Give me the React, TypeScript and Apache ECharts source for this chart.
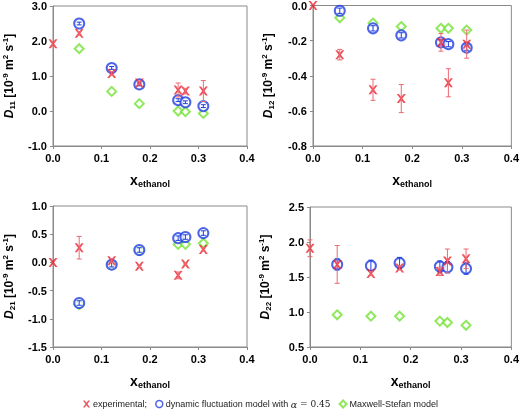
import React, { useEffect, useRef } from "react";
import * as echarts from "echarts";

const xExp = [0, 0.054, 0.121, 0.178, 0.258, 0.273, 0.31];
const xMod = [0.054, 0.121, 0.178, 0.258, 0.273, 0.31];

// D11
const d11Exp = [1.92, 2.22, 1.07, 0.8, 0.6, 0.57, 0.57];
const d11ExpErr = [0.06, 0.05, 0.05, 0.05, 0.2, 0.08, 0.3];
const d11Dfm = [2.5, 1.23, 0.76, 0.31, 0.25, 0.14];
const d11DfmErr = [0.04, 0.04, 0.04, 0.04, 0.04, 0.04];
const d11Ms = [1.78, 0.56, 0.21, 0.0, -0.02, -0.07];

// D12
const d12Exp = [0.0, -0.28, -0.48, -0.53, -0.21, -0.44, -0.22];
const d12ExpErr = [0.0, 0.03, 0.06, 0.08, 0.05, 0.08, 0.08];
const d12Dfm = [-0.03, -0.13, -0.17, -0.21, -0.22, -0.24];
const d12DfmErr = [0.015, 0.015, 0.015, 0.015, 0.015, 0.015];
const d12Ms = [-0.07, -0.1, -0.12, -0.13, -0.13, -0.14];

// D21
const d21Exp = [0.0, 0.26, 0.03, -0.07, -0.23, -0.03, 0.23];
const d21ExpErr = [0.0, 0.2, 0.03, 0.02, 0.06, 0.02, 0.03];
const d21Dfm = [-0.72, -0.04, 0.22, 0.43, 0.45, 0.52];
const d21DfmErr = [0.04, 0.04, 0.04, 0.04, 0.04, 0.04];
const d21Ms = [-0.75, -0.03, 0.21, 0.32, 0.32, 0.34];

// D22
const d22Exp = [1.91, 1.68, 1.55, 1.63, 1.58, 1.73, 1.76];
const d22ExpErr = [0.12, 0.27, 0.03, 0.03, 0.06, 0.17, 0.14];
const d22Dfm = [1.68, 1.66, 1.7, 1.65, 1.64, 1.62];
const d22DfmErr = [0.08, 0.08, 0.08, 0.08, 0.08, 0.08];
const d22Ms = [0.96, 0.94, 0.94, 0.87, 0.85, 0.81];

const yMins = [-1, -0.8, -1.5, 0.5];
const yMaxs = [3, 0, 1, 2.5];
const yIntervals = [1, 0.2, 0.5, 0.5];
const ySubs = ["11", "12", "21", "22"];
const legendNames = ["experimental;", "dynamic fluctuation model with α = 0.45", "Maxwell-Stefan model"];

const RED = "#ea2431";
const RED_ERR = "#ee6a72";
const BLUE = "#1f3fe0";
const GREEN = "#74e234";
const XSYM = "path://M0,0 L2.4,0 L5,3.2 L7.6,0 L10,0 L6.3,5 L10,10 L7.6,10 L5,6.8 L2.4,10 L0,10 L3.7,5 Z";
const FONT = "Liberation Sans, Arial, sans-serif";

const panels = [
  { exp: d11Exp, expErr: d11ExpErr, dfm: d11Dfm, dfmErr: d11DfmErr, ms: d11Ms },
  { exp: d12Exp, expErr: d12ExpErr, dfm: d12Dfm, dfmErr: d12DfmErr, ms: d12Ms },
  { exp: d21Exp, expErr: d21ExpErr, dfm: d21Dfm, dfmErr: d21DfmErr, ms: d21Ms },
  { exp: d22Exp, expErr: d22ExpErr, dfm: d22Dfm, dfmErr: d22DfmErr, ms: d22Ms },
];

const grids = [
  { left: 47, top: 6, width: 200, height: 140 },
  { left: 313, top: 5, width: 200, height: 141 },
  { left: 47, top: 206, width: 200, height: 141 },
  { left: 310, top: 207, width: 203, height: 140 },
];

function errSeries(i: number, xs: number[], ys: number[], errs: number[], color: string, z: number) {
  const data = xs.map((x, k) => [x, ys[k] - errs[k], ys[k] + errs[k]]).filter((d) => d[2] - d[1] > 0);
  return {
    type: "custom",
    xAxisIndex: i,
    yAxisIndex: i,
    z,
    silent: true,
    data,
    renderItem: (params: any, api: any) => {
      const x = api.value(0);
      const lo = api.coord([x, api.value(1)]);
      const hi = api.coord([x, api.value(2)]);
      const cw = 2.5;
      const style = { stroke: color, lineWidth: 1 };
      return {
        type: "group",
        children: [
          { type: "line", shape: { x1: lo[0], y1: lo[1], x2: hi[0], y2: hi[1] }, style },
          { type: "line", shape: { x1: lo[0] - cw, y1: lo[1], x2: lo[0] + cw, y2: lo[1] }, style },
          { type: "line", shape: { x1: hi[0] - cw, y1: hi[1], x2: hi[0] + cw, y2: hi[1] }, style },
        ],
      };
    },
  };
}

export default function App() {
  const ref = useRef<HTMLDivElement>(null);
  useEffect(() => {
    if (!ref.current) return;
    const chart = echarts.init(ref.current, null, { renderer: "svg" });
    const axisLine = { show: true, onZero: false, lineStyle: { color: "#8a8a8a", width: 1 } };
    const axisTick = { show: true, length: 3, lineStyle: { color: "#8a8a8a" } };
    const labelStyle = { color: "#000", fontWeight: "bold" as const, fontSize: 11, fontFamily: FONT };

    const xAxes = grids.map((_, i) => ({
      type: "value",
      gridIndex: i,
      min: 0,
      max: 0.4,
      interval: 0.1,
      axisLine,
      axisTick,
      splitLine: { show: false },
      axisLabel: { ...labelStyle, margin: 6, formatter: (v: number) => v.toFixed(1) },
      name: "{x|x}{s|ethanol}",
      nameLocation: "middle",
      nameGap: 25,
      nameTextStyle: {
        rich: {
          x: { fontSize: 14, fontWeight: "bold", fontFamily: FONT, color: "#000" },
          s: { fontSize: 9, fontWeight: "bold", fontFamily: FONT, color: "#000", padding: [8, 0, 0, 0] },
        },
      },
    }));

    const yAxes = grids.map((_, i) => ({
      type: "value",
      gridIndex: i,
      min: yMins[i],
      max: yMaxs[i],
      interval: yIntervals[i],
      axisLine,
      axisTick,
      splitLine: { show: false },
      axisLabel: { ...labelStyle, margin: 6, formatter: (v: number) => v.toFixed(1) },
      name: `{d|D}{sub|${ySubs[i]}}{t| [10}{sup|-9}{t| m}{sup|2}{t| s}{sup|-1}{t|]}`,
      nameLocation: "middle",
      nameRotate: 90,
      nameGap: i % 2 === 1 ? 38 : 37,
      nameTextStyle: {
        rich: {
          d: { fontSize: 12, fontWeight: "bold", fontStyle: "italic", fontFamily: FONT, color: "#000" },
          sub: { fontSize: 8, fontWeight: "bold", fontFamily: FONT, color: "#000", padding: [7, 0, 0, 0] },
          t: { fontSize: 12, fontWeight: "bold", fontFamily: FONT, color: "#000" },
          sup: { fontSize: 8, fontWeight: "bold", fontFamily: FONT, color: "#000", padding: [0, 0, 7, 0] },
        },
      },
    }));

    const series: any[] = [];
    panels.forEach((p, i) => {
      series.push({
        name: legendNames[2],
        type: "scatter",
        xAxisIndex: i,
        yAxisIndex: i,
        symbol: "emptyDiamond",
        symbolSize: 9,
        itemStyle: { color: GREEN, borderColor: GREEN, borderWidth: 2 },
        z: 2,
        data: xMod.map((x, k) => [x, p.ms[k]]),
      });
      series.push({
        name: legendNames[1],
        type: "scatter",
        xAxisIndex: i,
        yAxisIndex: i,
        symbol: "emptyCircle",
        symbolSize: 10,
        itemStyle: { color: BLUE, borderColor: BLUE, borderWidth: 2 },
        z: 3,
        data: xMod.map((x, k) => [x, p.dfm[k]]),
      });
      series.push(errSeries(i, xMod, p.dfm, p.dfmErr, BLUE, 4));
      series.push({
        name: legendNames[0],
        type: "scatter",
        xAxisIndex: i,
        yAxisIndex: i,
        symbol: XSYM,
        symbolSize: 9,
        itemStyle: { color: RED },
        z: 5,
        data: xExp.map((x, k) => [x, p.exp[k]]),
      });
      series.push(errSeries(i, xExp, p.exp, p.expErr, RED_ERR, 6));
    });

    chart.setOption({
      animation: false,
      grid: grids.map((g) => ({ ...g, show: true, borderColor: "#8a8a8a", borderWidth: 1, backgroundColor: "transparent" })),
      xAxis: xAxes,
      yAxis: yAxes,
      legend: {
        data: [
          { name: legendNames[0], icon: XSYM, itemStyle: { color: RED } },
          { name: legendNames[1], icon: "circle", itemStyle: { color: "#fff", borderColor: BLUE, borderWidth: 1.5 } },
          { name: legendNames[2], icon: "diamond", itemStyle: { color: "#fff", borderColor: GREEN, borderWidth: 2 } },
        ],
        left: 83,
        top: 399,
        padding: 0,
        itemWidth: 7,
        itemHeight: 7,
        itemGap: 8,
        selectedMode: false,
        formatter: (name: string) =>
          name === legendNames[1]
            ? "{n|dynamic fluctuation model with }{a|α}{m| = 0.45}"
            : `{n|${name}}`,
        textStyle: {
          fontSize: 9,
          color: "#222",
          fontFamily: FONT,
          padding: [0, 0, 0, -2],
          rich: {
            n: { fontSize: 9, color: "#222", fontFamily: FONT, lineHeight: 11 },
            a: { fontSize: 9.5, color: "#222", fontStyle: "italic", fontFamily: "DejaVu Serif, serif", lineHeight: 11 },
            m: { fontSize: 9, color: "#222", fontFamily: "DejaVu Serif, serif", lineHeight: 11 },
          },
        },
      },
      series,
    } as any);
    return () => chart.dispose();
  }, []);
  return <div ref={ref} style={{ position: "fixed", left: 0, top: 0, width: 522, height: 411 }} />;
}
